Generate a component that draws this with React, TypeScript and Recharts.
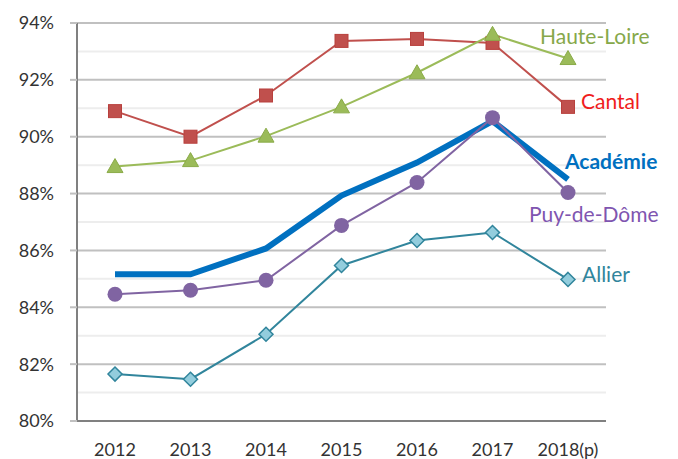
import React from 'react';
import {
  LineChart,
  Line,
  XAxis,
  YAxis,
  CartesianGrid,
  ReferenceLine,
  LabelList,
} from 'recharts';

const years = ['2012', '2013', '2014', '2015', '2016', '2017', '2018(p)'];
const cantal = [90.9, 90.0, 91.45, 93.37, 93.44, 93.3, 91.05];
const hauteLoire = [88.95, 89.16, 90.02, 91.05, 92.25, 93.6, 92.75];
const academie = [85.16, 85.16, 86.07, 87.93, 89.09, 90.55, 88.5];
const puyDeDome = [84.46, 84.6, 84.95, 86.88, 88.39, 90.67, 88.04];
const allier = [81.65, 81.47, 83.05, 85.47, 86.35, 86.63, 84.98];
const yTicks = [80, 82, 84, 86, 88, 90, 92, 94];
const minorTicks = [81, 83, 85, 87, 89, 91, 93];

const data = years.map((year, i) => ({
  year,
  cantal: cantal[i],
  hauteLoire: hauteLoire[i],
  academie: academie[i],
  puyDeDome: puyDeDome[i],
  allier: allier[i],
}));

const FONT = 'Lato, "Open Sans", sans-serif';
const last = years.length - 1;

const SquareDot = (props: any) => {
  const { cx, cy } = props;
  return <rect x={cx - 6.5} y={cy - 6.5} width={13} height={13} fill="#c0504d" stroke="#b8403d" strokeWidth={1} />;
};

const TriangleDot = (props: any) => {
  const { cx, cy } = props;
  return (
    <path
      d={`M${cx},${cy - 8} L${cx + 8},${cy + 6} L${cx - 8},${cy + 6} Z`}
      fill="#9bbb59"
      stroke="#8aab48"
      strokeWidth={1}
    />
  );
};

const CircleDot = (props: any) => {
  const { cx, cy } = props;
  return <circle cx={cx} cy={cy} r={7.5} fill="#8064a2" />;
};

const DiamondDot = (props: any) => {
  const { cx, cy } = props;
  return (
    <path
      d={`M${cx},${cy - 7} L${cx + 7},${cy} L${cx},${cy + 7} L${cx - 7},${cy} Z`}
      fill="#93cddd"
      stroke="#31859c"
      strokeWidth={1.5}
    />
  );
};

const endLabel = (text: string, color: string, dx: number, dy: number, bold = false) => (props: any) => {
  const { x, y, index } = props;
  if (index !== last) return null;
  return (
    <text
      x={x + dx}
      y={y + dy}
      fill={color}
      fontSize={21}
      fontFamily={FONT}
      fontWeight={bold ? 700 : 400}
      dominantBaseline="central"
      textAnchor="start"
    >
      {text}
    </text>
  );
};

export default function App() {
  return (
    <div style={{ position: 'absolute', left: 0, top: 0, background: '#fff' }}>
      <LineChart
        width={678}
        height={459}
        data={data}
        margin={{ top: 23, right: 72, bottom: 0, left: 0 }}
      >
        <CartesianGrid vertical={false} stroke="#c0c0c0" strokeWidth={2} />
        {minorTicks.map((t) => (
          <ReferenceLine key={t} y={t} stroke="#ededed" strokeWidth={2} />
        ))}
        <XAxis
          dataKey="year"
          height={38}
          padding={{ left: 38, right: 38 }}
          tickLine={false}
          tickSize={0}
          tickMargin={22}
          axisLine={{ stroke: '#808080', strokeWidth: 2 }}
          tick={{ fill: '#333', fontSize: 18, fontFamily: FONT }}
        />
        <YAxis
          width={77}
          domain={[80, 94]}
          ticks={yTicks}
          interval={0}
          tickFormatter={(v) => `${v}%`}
          tickSize={7}
          tickMargin={16}
          tickLine={{ stroke: '#c0c0c0', strokeWidth: 2 }}
          axisLine={{ stroke: '#808080', strokeWidth: 2 }}
          tick={{ fill: '#333', fontSize: 18, fontFamily: FONT }}
        />
        <Line
          dataKey="academie"
          stroke="#0070c0"
          strokeWidth={6}
          dot={false}
          isAnimationActive={false}
        >
          <LabelList content={endLabel('Académie', '#0070c0', -3, -19, true)} />
        </Line>
        <Line
          dataKey="cantal"
          stroke="#c0504d"
          strokeWidth={2}
          dot={<SquareDot />}
          isAnimationActive={false}
        >
          <LabelList content={endLabel('Cantal', '#f01c1c', 13, -6)} />
        </Line>
        <Line
          dataKey="hauteLoire"
          stroke="#9bbb59"
          strokeWidth={2}
          dot={<TriangleDot />}
          isAnimationActive={false}
        >
          <LabelList content={endLabel('Haute-Loire', '#86a84a', -28, -23)} />
        </Line>
        <Line
          dataKey="puyDeDome"
          stroke="#8064a2"
          strokeWidth={2}
          dot={<CircleDot />}
          isAnimationActive={false}
        >
          <LabelList content={endLabel('Puy-de-Dôme', '#7f55b0', -39, 21)} />
        </Line>
        <Line
          dataKey="allier"
          stroke="#31859c"
          strokeWidth={2}
          dot={<DiamondDot />}
          isAnimationActive={false}
        >
          <LabelList content={endLabel('Allier', '#31859c', 14, -6)} />
        </Line>
      </LineChart>
    </div>
  );
}
